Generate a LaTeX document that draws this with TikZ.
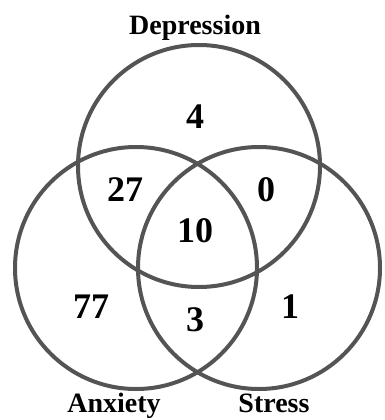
\documentclass[tikz,border=0pt]{standalone}
\usepackage{fontspec}
\setmainfont{Liberation Serif}
\begin{document}
\begin{tikzpicture}[
      x=1pt, y=-1pt,
      every node/.style={align=center, font=\bfseries},
      ring/.style={circle, draw=black!67, line width=4pt, minimum size=242pt, inner sep=0pt},
      setname/.style={font=\bfseries\fontsize{28}{30}\selectfont, anchor=base},
      count/.style={font=\bfseries\fontsize{36}{38}\selectfont}
    ]
      \useasboundingbox (0,0) rectangle (384,420);

      % Circles
      \node[ring] (depc) at (199,166) {};
      \node[ring] (anxc) at (136,268) {};
      \node[ring] (strc) at (259,268) {};

      % Set names
      \node[setname] (dep) at (195,35) {Depression};
      \node[setname] (anx) at (114,412) {Anxiety};
      \node[setname] (str) at (274,412) {Stress};

      % Counts
      \node[count] (n4) at (195,117) {4};
      \node[count] (n27) at (125,190) {27};
      \node[count] (n0) at (266,190) {0};
      \node[count] (n10) at (195,231) {10};
      \node[count] (n77) at (91,307) {77};
      \node[count] (n3) at (195,320) {3};
      \node[count] (n1) at (290,307) {1};
    \end{tikzpicture}
\end{document}
